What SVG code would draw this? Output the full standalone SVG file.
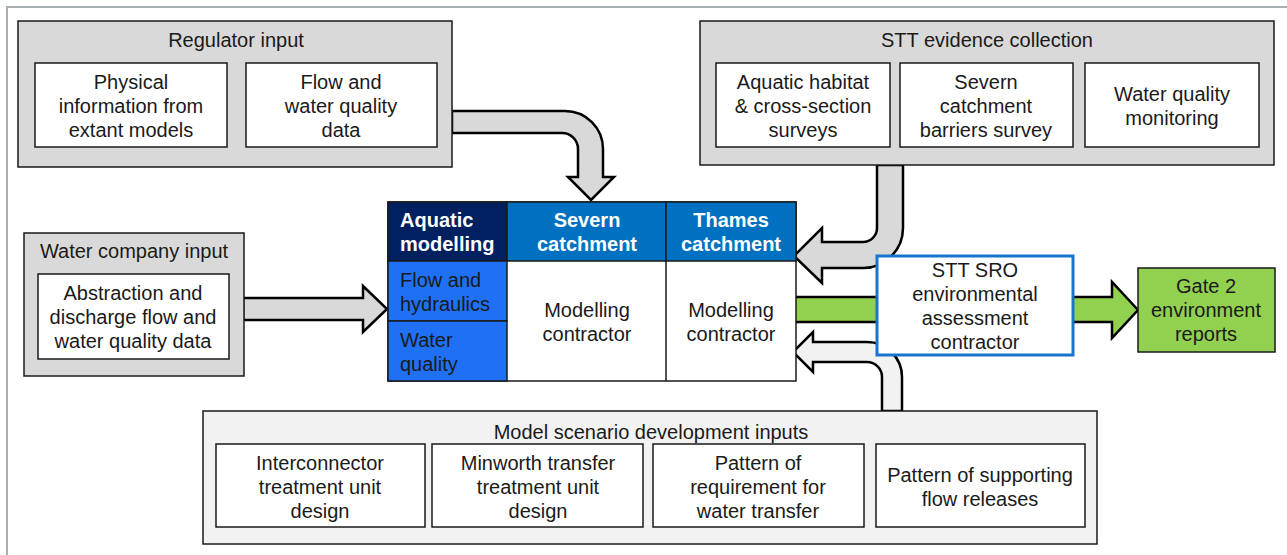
<svg xmlns="http://www.w3.org/2000/svg" width="1287" height="555" viewBox="0 0 1287 555">
  <style>
    text { font-family: "Liberation Sans", Arial, sans-serif; font-size: 20px; fill: #1a1a1a; text-anchor: middle; }
    .grp { fill: #d9d9d9; stroke: #1a1a1a; stroke-width: 1.5; }
    .grp-light { fill: #f2f2f2; stroke: #1a1a1a; stroke-width: 1.5; }
    .box { fill: #ffffff; stroke: #1a1a1a; stroke-width: 1.5; }
    .arrow { fill: #d9d9d9; stroke: #000; stroke-width: 2.5; stroke-linejoin: miter; }
    .arrow-light { fill: #f2f2f2; stroke: #000; stroke-width: 2.5; }
    .arrow-green { fill: #92d050; stroke: #000; stroke-width: 2.5; }
    .hdr { fill: #ffffff; font-weight: bold; }
    .lt { text-anchor: start; }
    .cell { stroke: #1a1a1a; stroke-width: 1.5; }
  </style>

  <!-- page frame -->
  <path d="M7,555 V7 H1287" fill="none" stroke="#a6b0b0" stroke-width="2"/>

  <!-- connectors -->
  <g id="connectors">
    <path class="arrow" d="M452,111 H565 A38,38 0 0 1 603,149 V177 H614 L591,200 L568,177 H578 V149 A16,16 0 0 0 562,133 H452 Z"/>
    <path class="arrow" d="M243,298 H363 V286 L387,309 L363,332 V320 H243 Z"/>
    <path class="arrow" d="M877,165 H903 V228 A40,40 0 0 1 863,268 H822 V283 L794,256 L822,228 V242 H863 A14,14 0 0 0 877,228 Z"/>
    <path class="arrow-light" d="M882,411 H902 V377 A35,35 0 0 0 867,342 H813 V332 L793,352 L813,372 V362 H867 A15,15 0 0 1 882,377 Z"/>
    <path class="arrow-green" d="M794,297 H1112 V282 L1138,310 L1112,338 V322 H794 Z"/>
  </g>

  <!-- Regulator input -->
  <g id="regulator-input">
    <rect class="grp" x="18" y="21" width="434" height="146"/>
    <text x="236" y="47">Regulator input</text>
    <rect class="box" x="35" y="63" width="192" height="84"/>
    <text x="131" y="89">Physical</text>
    <text x="131" y="113">information from</text>
    <text x="131" y="137">extant models</text>
    <rect class="box" x="246" y="63" width="191" height="84"/>
    <text x="341" y="89">Flow and</text>
    <text x="341" y="113">water quality</text>
    <text x="341" y="137">data</text>
  </g>

  <!-- STT evidence collection -->
  <g id="stt-evidence">
    <rect class="grp" x="700" y="21" width="574" height="144"/>
    <text x="987" y="47">STT evidence collection</text>
    <rect class="box" x="716" y="63" width="174" height="84"/>
    <text x="803" y="89">Aquatic habitat</text>
    <text x="803" y="113">&amp; cross-section</text>
    <text x="803" y="137">surveys</text>
    <rect class="box" x="900" y="63" width="173" height="84"/>
    <text x="986" y="89">Severn</text>
    <text x="986" y="113">catchment</text>
    <text x="986" y="137">barriers survey</text>
    <rect class="box" x="1085" y="63" width="174" height="84"/>
    <text x="1172" y="101">Water quality</text>
    <text x="1172" y="125">monitoring</text>
  </g>

  <!-- Water company input -->
  <g id="water-company-input">
    <rect class="grp" x="24" y="233" width="220" height="143"/>
    <text x="134" y="258">Water company input</text>
    <rect class="box" x="38" y="274" width="191" height="85"/>
    <text x="133" y="300">Abstraction and</text>
    <text x="133" y="324">discharge flow and</text>
    <text x="133" y="348">water quality data</text>
  </g>

  <!-- Aquatic modelling table -->
  <g id="aquatic-modelling">
    <rect x="388" y="202" width="408" height="179" fill="#ffffff" class="cell"/>
    <rect x="388" y="202" width="119" height="59" fill="#002060" class="cell"/>
    <rect x="507" y="202" width="159" height="59" fill="#0070c0" class="cell"/>
    <rect x="666" y="202" width="130" height="59" fill="#0070c0" class="cell"/>
    <rect x="388" y="261" width="119" height="60" fill="#1f70f5" class="cell"/>
    <rect x="388" y="321" width="119" height="60" fill="#1f70f5" class="cell"/>
    <line x1="666" y1="261" x2="666" y2="381" class="cell"/>
    <text class="hdr lt" x="400" y="227">Aquatic</text>
    <text class="hdr lt" x="400" y="251">modelling</text>
    <text class="hdr" x="587" y="227">Severn</text>
    <text class="hdr" x="587" y="251">catchment</text>
    <text class="hdr" x="731" y="227">Thames</text>
    <text class="hdr" x="731" y="251">catchment</text>
    <text class="lt" x="400" y="287">Flow and</text>
    <text class="lt" x="400" y="311">hydraulics</text>
    <text class="lt" x="400" y="347">Water</text>
    <text class="lt" x="400" y="371">quality</text>
    <text x="587" y="317">Modelling</text>
    <text x="587" y="341">contractor</text>
    <text x="731" y="317">Modelling</text>
    <text x="731" y="341">contractor</text>
  </g>

  <!-- STT SRO environmental assessment contractor -->
  <g id="sro-contractor">
    <rect x="877" y="256" width="196" height="99" fill="#ffffff" stroke="#1874cd" stroke-width="3"/>
    <text x="975" y="277">STT SRO</text>
    <text x="975" y="301">environmental</text>
    <text x="975" y="325">assessment</text>
    <text x="975" y="349">contractor</text>
  </g>

  <!-- Gate 2 environment reports -->
  <g id="gate2-reports">
    <rect x="1138" y="268" width="137" height="84" fill="#92d050" stroke="#1a1a1a" stroke-width="1.5"/>
    <text x="1206" y="293">Gate 2</text>
    <text x="1206" y="317">environment</text>
    <text x="1206" y="341">reports</text>
  </g>

  <!-- Model scenario development inputs -->
  <g id="model-scenario-inputs">
    <rect class="grp-light" x="203" y="411" width="894" height="133"/>
    <text x="651" y="439">Model scenario development inputs</text>
    <rect class="box" x="216" y="444" width="209" height="83"/>
    <text x="320" y="470">Interconnector</text>
    <text x="320" y="494">treatment unit</text>
    <text x="320" y="518">design</text>
    <rect class="box" x="432" y="444" width="211" height="83"/>
    <text x="538" y="470">Minworth transfer</text>
    <text x="538" y="494">treatment unit</text>
    <text x="538" y="518">design</text>
    <rect class="box" x="653" y="444" width="211" height="83"/>
    <text x="758" y="470">Pattern of</text>
    <text x="758" y="494">requirement for</text>
    <text x="758" y="518">water transfer</text>
    <rect class="box" x="876" y="444" width="209" height="83"/>
    <text x="980" y="482">Pattern of supporting</text>
    <text x="980" y="506">flow releases</text>
  </g>
</svg>
